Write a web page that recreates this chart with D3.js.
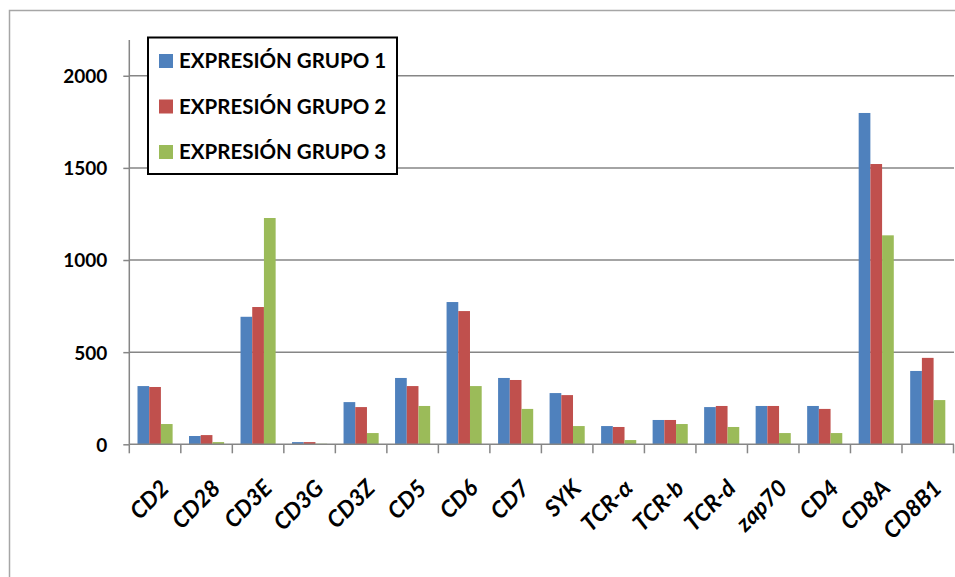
<!DOCTYPE html>
<html><head><meta charset="utf-8">
<script src="https://cdn.jsdelivr.net/npm/d3@7"></script>
<style>body{margin:0;background:#fff}svg{display:block}</style>
</head><body>
<svg id="c" width="955" height="577"></svg>
<script>
const categories = ["CD2","CD28","CD3E","CD3G","CD3Z","CD5","CD6","CD7","SYK","TCR-α","TCR-b","TCR-d","zap70","CD4","CD8A","CD8B1"];
const seriesNames = ["EXPRESIÓN GRUPO 1","EXPRESIÓN GRUPO 2","EXPRESIÓN GRUPO 3"];
const grupo1 = [316,45,692,12,229,360,772,360,278,99,132,202,208,208,1798,398];
const grupo2 = [311,50,745,12,202,316,723,349,267,94,132,208,208,192,1521,469];
const grupo3 = [110,12,1228,3,61,208,316,192,99,23,110,94,61,61,1134,240];
const yTicks = [0,500,1000,1500,2000];
const colors = ["#4F81BD","#C0504D","#9BBB59"];

const series = [grupo1,grupo2,grupo3];
const svg = d3.select("#c");
const font = "Lato, 'Liberation Sans', sans-serif";
const axisGray = "#868686";

// outer frame
svg.append("path").attr("d","M9.5,577 V10.5 H955").attr("fill","none").attr("stroke","#a6a6a6").attr("stroke-width",1.5);

const x0 = d3.scaleBand().domain(categories).range([129.3,953.5]).paddingInner(0).paddingOuter(0);
const x1 = d3.scaleBand().domain([0,1,2]).range([0,x0.bandwidth()]).paddingOuter(0.7).paddingInner(0);
const y = d3.scaleLinear().domain([0,2194]).range([444.3,40]);

// gridlines
svg.append("g").selectAll("line").data(yTicks.filter(d=>d>0)).join("line")
  .attr("x1",129.3).attr("x2",954).attr("y1",d=>y(d)).attr("y2",d=>y(d))
  .attr("stroke",axisGray).attr("stroke-width",1.5);

// bars
const g = svg.append("g");
categories.forEach((c,i)=>{
  series.forEach((s,j)=>{
    g.append("rect").attr("x",x0(c)+x1(j)).attr("width",x1.bandwidth())
      .attr("y",y(s[i])).attr("height",y(0)-y(s[i])).attr("fill",colors[j]);
  });
});

// y axis
const yAxis = d3.axisLeft(y).tickValues(yTicks).tickSize(6).tickPadding(16).tickFormat(d3.format("d"));
const ya = svg.append("g").attr("transform","translate(129.3,0)").call(yAxis);
ya.select(".domain").attr("d","M0,40V444.3").attr("stroke",axisGray).attr("stroke-width",1.5);
ya.selectAll(".tick line").attr("stroke",axisGray).attr("stroke-width",1.5);
ya.selectAll("text").attr("font-family",font).attr("font-weight","bold").attr("font-size",19).attr("fill","#000").attr("dy","0.36em");

// x axis
const xa = svg.append("g").attr("transform","translate(0,444.3)");
xa.append("line").attr("x1",129.3).attr("x2",954).attr("stroke",axisGray).attr("stroke-width",1.5);
const bounds = categories.map(c=>x0(c)).concat([x0.range()[1]]);
xa.selectAll("line.t").data(bounds).join("line").attr("class","t")
  .attr("x1",d=>d).attr("x2",d=>d).attr("y1",0).attr("y2",9).attr("stroke",axisGray).attr("stroke-width",1.5);
xa.selectAll("text").data(categories).join("text")
  .attr("transform",d=>`translate(${x0(d)+x0.bandwidth()/2+4},${34}) rotate(-45)`)
  .attr("text-anchor","end").attr("dy","0.7em")
  .attr("font-family",font).attr("font-weight","bold").attr("font-style","italic").attr("font-size",23).attr("fill","#000")
  .text(d=>d);

// legend
const lg = svg.append("g");
lg.append("rect").attr("x",148).attr("y",37.5).attr("width",249).attr("height",136.5).attr("fill","#fff").attr("stroke","#000").attr("stroke-width",2);
seriesNames.forEach((n,j)=>{
  const cy = 61 + j*45.5;
  lg.append("rect").attr("x",159).attr("y",cy-7).attr("width",14).attr("height",14).attr("fill",colors[j]);
  lg.append("text").attr("x",179).attr("y",cy).attr("dy","0.36em").attr("font-family",font).attr("font-weight","bold")
    .attr("font-size",20.5).attr("fill","#000").text(n);
});
</script>
</body></html>
